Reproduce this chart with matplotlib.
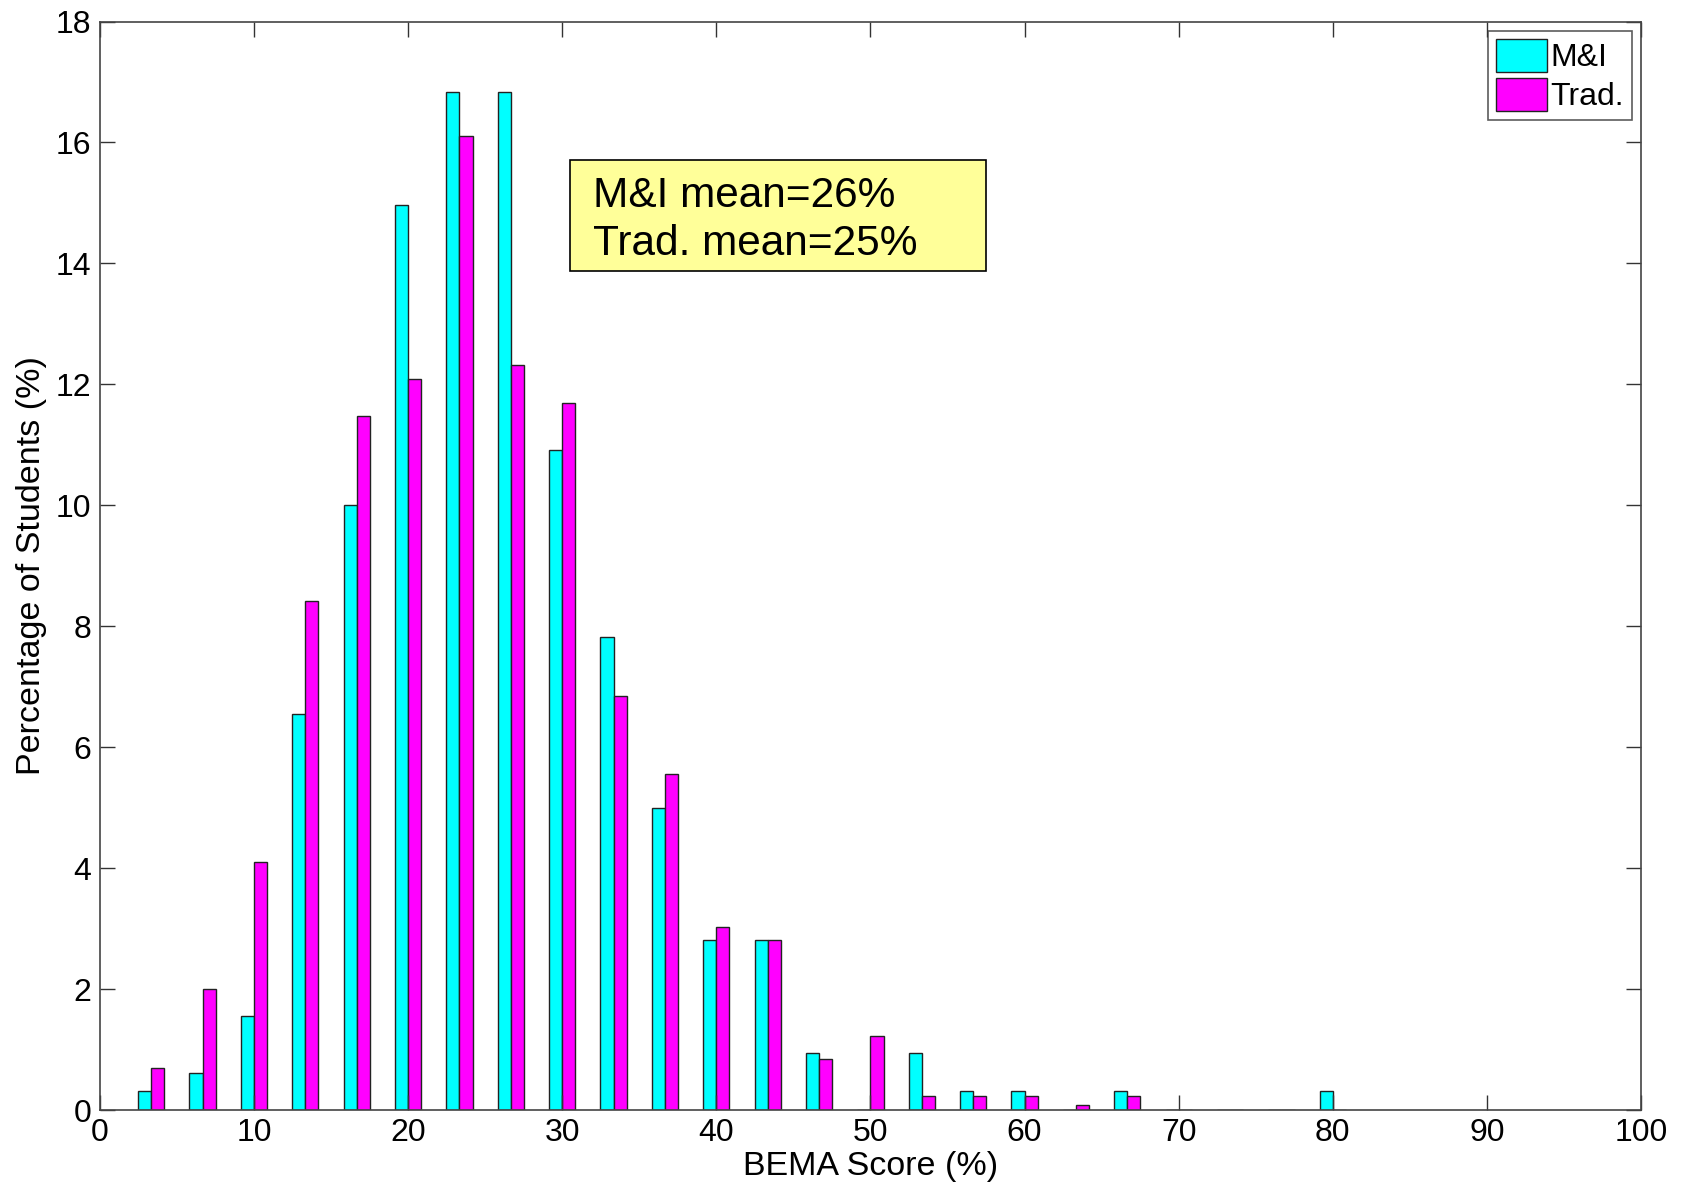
import numpy as np
import matplotlib.pyplot as plt
from matplotlib.patches import Rectangle

plt.rcParams['font.family'] = ['Liberation Sans', 'DejaVu Sans']

# BEMA score bins (30 questions -> steps of 100/30 %)
bins = np.arange(1, 25) * 100.0 / 30
mi = [0.31, 0.62, 1.56, 6.55, 10.0, 14.96, 16.84, 16.84, 10.92, 7.82, 5.0, 2.82,
      2.82, 0.94, 0.0, 0.94, 0.31, 0.31, 0.0, 0.31, 0.0, 0.0, 0.0, 0.31]
trad = [0.69, 2.0, 4.1, 8.42, 11.47, 12.09, 16.1, 12.32, 11.7, 6.85, 5.55, 3.03,
        2.82, 0.84, 1.22, 0.23, 0.23, 0.23, 0.08, 0.23, 0.0, 0.0, 0.0, 0.0]
labels = ['M&I', 'Trad.']
xticks = np.arange(0, 101, 10)
yticks = np.arange(0, 19, 2)

fig = plt.figure(figsize=(16.82, 11.89), dpi=100)
ax = fig.add_axes([0.0593, 0.0664, 0.9164, 0.9155])

w = 0.85
ax.bar(bins - w/2, mi, width=w, color='#00ffff', edgecolor='#222222', linewidth=1, label=labels[0])
ax.bar(bins + w/2, trad, width=w, color='#ff00ff', edgecolor='#222222', linewidth=1, label=labels[1])

ax.set_xlim(0, 100)
ax.set_ylim(0, 18)
ax.set_xticks(xticks)
ax.set_yticks(yticks)
ax.tick_params(direction='in', length=11, width=1, top=True, right=True,
               labelsize=23, colors='#333333', labelcolor='black', pad=6)
for s in ax.spines.values():
    s.set_color('#444444')
    s.set_linewidth(1.2)

ax.set_xlabel('BEMA Score (%)', fontsize=24.5, labelpad=2)
ax.set_ylabel('Percentage of Students (%)', fontsize=24.5, labelpad=6)

leg = ax.legend(loc='upper right', fontsize=23, fancybox=False, edgecolor='#333333',
                handlelength=1.6, handleheight=1.2, handletextpad=0.1,
                borderpad=0.25, labelspacing=0.15, borderaxespad=0.3)
leg.get_frame().set_linewidth(1.2)
for h in leg.legend_handles:
    h.set_edgecolor('#222222')

# mean summary box
ax.add_patch(Rectangle((0.305, 0.771), 0.270, 0.102, transform=ax.transAxes,
                       facecolor='#ffff99', edgecolor='black', linewidth=1.2, zorder=5))
ax.text(0.320, 0.8296, 'M&I mean=26%', transform=ax.transAxes, fontsize=30.5,
        va='baseline', ha='left', zorder=6)
ax.text(0.320, 0.7855, 'Trad. mean=25%', transform=ax.transAxes, fontsize=30.5,
        va='baseline', ha='left', zorder=6)

fig.savefig('out.png', dpi=100)
